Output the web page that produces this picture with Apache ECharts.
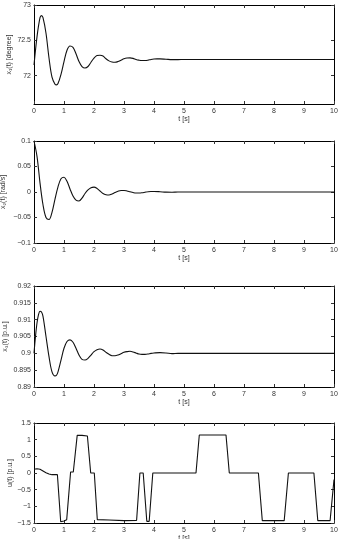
<!DOCTYPE html>
<html><head><meta charset="utf-8">
<script src="https://cdn.jsdelivr.net/npm/echarts@6/dist/echarts.min.js"></script>
<style>html,body{margin:0;padding:0;background:#fff}#c{width:341px;height:539px}</style>
</head><body><div id="c"></div>
<script>
// ---- data ----
const x1Time = [0,0.1,0.2,0.25,0.3,0.4,0.5,0.6,0.7,0.75,0.8,0.9,1.0,1.1,1.2,1.3,1.4,1.5,1.6,1.7,1.8,1.9,2.0,2.1,2.2,2.3,2.4,2.5,2.6,2.7,2.8,2.9,3.0,3.1,3.2,3.3,3.4,3.5,3.6,3.7,3.8,3.9,4.0,4.1,4.2,4.4,4.6,4.8,5,6,7,8,9,10];
const x1Vals = [72.15,72.55,72.82,72.85,72.82,72.6,72.25,71.98,71.88,71.87,71.89,72.02,72.2,72.36,72.42,72.40,72.31,72.2,72.13,72.11,72.13,72.19,72.25,72.285,72.29,72.28,72.24,72.21,72.193,72.19,72.2,72.22,72.24,72.25,72.252,72.245,72.23,72.22,72.215,72.215,72.22,72.23,72.236,72.238,72.238,72.233,72.228,72.228,72.23,72.23,72.23,72.23,72.23,72.23];

const x2Time = [0,0.1,0.2,0.3,0.4,0.5,0.6,0.7,0.8,0.9,1.0,1.1,1.2,1.3,1.4,1.5,1.6,1.7,1.8,1.9,2.0,2.1,2.2,2.3,2.4,2.5,2.6,2.7,2.8,2.9,3.0,3.1,3.2,3.3,3.4,3.5,3.6,3.7,3.8,3.9,4.0,4.2,4.4,4.6,4.8,5,10];
const x2Vals = [0.1,0.07,0.018,-0.025,-0.05,-0.054,-0.04,-0.014,0.01,0.026,0.029,0.021,0.006,-0.008,-0.016,-0.0175,-0.012,-0.003,0.004,0.0085,0.0095,0.007,0.002,-0.003,-0.0055,-0.006,-0.004,-0.001,0.0015,0.003,0.003,0.002,0.0005,-0.001,-0.002,-0.002,-0.0015,-0.0005,0.0005,0.001,0.001,0.0005,-0.0003,-0.0004,0,0,0];

const x3Time = [0,0.05,0.1,0.15,0.2,0.25,0.3,0.4,0.5,0.6,0.7,0.75,0.8,0.9,1.0,1.1,1.2,1.3,1.4,1.5,1.6,1.7,1.8,1.9,2.0,2.1,2.2,2.3,2.4,2.5,2.6,2.7,2.8,2.9,3.0,3.1,3.2,3.3,3.4,3.5,3.6,3.7,3.8,3.9,4.0,4.2,4.4,4.6,4.8,5,10];
const x3Vals = [0.9,0.905,0.909,0.9115,0.9125,0.9123,0.911,0.905,0.899,0.8945,0.8933,0.8935,0.8945,0.898,0.9015,0.9035,0.904,0.9033,0.9015,0.8995,0.8982,0.898,0.8985,0.8995,0.9005,0.9011,0.9013,0.901,0.9003,0.8997,0.8993,0.8993,0.8995,0.8999,0.9003,0.9005,0.9006,0.9004,0.9001,0.8998,0.8997,0.8997,0.8998,0.9,0.9001,0.9002,0.9001,0.8999,0.9,0.9,0.9];

const uTime = [0,0.1,0.2,0.3,0.4,0.5,0.6,0.78,0.89,1.0,1.09,1.22,1.31,1.44,1.6,1.78,1.89,2.01,2.11,2.5,3.0,3.42,3.53,3.64,3.76,3.84,3.96,5.4,5.51,6.4,6.51,7.48,7.61,8.34,8.48,9.33,9.46,9.87,10];
const uVals = [0.11,0.13,0.11,0.06,0.01,-0.03,-0.05,-0.05,-1.46,-1.44,-1.4,0.03,0.03,1.13,1.13,1.11,0,0,-1.4,-1.41,-1.43,-1.42,0,0,-1.45,-1.45,0,0,1.14,1.14,0,0,-1.43,-1.43,0,0,-1.43,-1.43,-0.2];

const y1Ticks = [72,72.5,73];
const yNames = ['x\u2081(t) [degree]','x\u2082(t) [rad/s]','x\u2083(t) [p.u.]','u(t) [p.u.]'];
const xName = 't [s]';

// ---- layout ----
const grids = [
  {top:5, height:99, nameGap:21},
  {top:141, height:102, nameGap:27},
  {top:286, height:101, nameGap:25},
  {top:423, height:100, nameGap:20}
];
const yRanges = [
  {min:71.6, max:73, custom:y1Ticks},
  {min:-0.1, max:0.1, interval:0.05},
  {min:0.89, max:0.92, interval:0.005},
  {min:-1.5, max:1.5, interval:0.5}
];
const series = [[x1Time,x1Vals],[x2Time,x2Vals],[x3Time,x3Vals],[uTime,uVals]];
const FONT = 'Liberation Sans, Arial, sans-serif';
const TXT = '#333';
const fmt = v => String(+v.toFixed(4)).replace('-', '\u2212');

const option = {
  animation:false,
  backgroundColor:'#fff',
  grid: grids.map(g => ({left:34, right:7, top:g.top, height:g.height, show:false, containLabel:false, outerBoundsMode:'none'})),
  xAxis: [], yAxis: [], series: []
};
grids.forEach((g,i) => {
  const baseX = {
    type:'value', gridIndex:i, min:0, max:10, interval:1,
    splitLine:{show:false},
    axisLine:{show:true, onZero:false, lineStyle:{color:'#000', width:1}},
    axisTick:{show:true, inside:true, length:3, lineStyle:{color:'#333'}}
  };
  option.xAxis.push(Object.assign({}, baseX, {
    position:'bottom',
    name:xName, nameLocation:'middle', nameGap:12, nameMoveOverlap:false,
    nameTextStyle:{fontSize:7, color:TXT, fontFamily:FONT},
    axisLabel:{show:true, fontSize:7, color:TXT, fontFamily:FONT, margin:4, formatter:fmt}
  }));
  option.xAxis.push(Object.assign({}, baseX, {position:'top', axisLabel:{show:false}}));
  const r = yRanges[i];
  const baseY = {
    type:'value', gridIndex:i, min:r.min, max:r.max,
    splitLine:{show:false},
    axisLine:{show:true, onZero:false, lineStyle:{color:'#000', width:1}},
    axisTick:{show:true, inside:true, length:3, lineStyle:{color:'#333'}}
  };
  if (r.interval) baseY.interval = r.interval;
  if (r.custom) baseY.axisTick.customValues = r.custom;
  const lbl = {show:true, fontSize:7, color:TXT, fontFamily:FONT, margin:3, formatter:fmt};
  if (r.custom) lbl.customValues = r.custom;
  option.yAxis.push(Object.assign({}, baseY, {
    position:'left', axisLabel:lbl,
    name:yNames[i], nameLocation:'middle', nameGap:g.nameGap, nameRotate:90, nameMoveOverlap:false,
    nameTextStyle:{fontSize:7, color:TXT, fontFamily:FONT}
  }));
  option.yAxis.push(Object.assign({}, baseY, {position:'right', axisLabel:{show:false}}));
  const [ts, vs] = series[i];
  option.series.push({
    type:'line', xAxisIndex:2*i, yAxisIndex:2*i,
    data: ts.map((t,k) => [t, vs[k]]),
    showSymbol:false, smooth: i<3 ? 0.35 : false,
    lineStyle:{color:'#111', width:1.1}
  });
});
const chart = echarts.init(document.getElementById('c'), null, {renderer:'canvas'});
chart.setOption(option);
</script></body></html>
